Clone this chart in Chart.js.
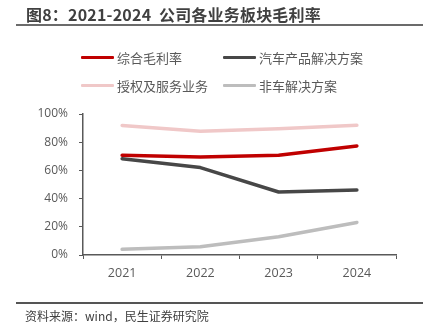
<!DOCTYPE html>
<html><head><meta charset="utf-8">
<script src="https://cdn.jsdelivr.net/npm/chart.js@4"></script>
<style>
html,body{margin:0;padding:0;background:#fff;}
#wrap{position:relative;width:428px;height:333px;overflow:hidden;font-family:"Noto Sans CJK SC","Noto Sans",sans-serif;}
#title{position:absolute;left:26px;top:2px;font-size:16px;font-weight:bold;color:#404040;white-space:nowrap;letter-spacing:0.2px;}
#tline{position:absolute;left:16px;width:407px;top:24px;height:2px;background:#6b6b6b;}
#bline{position:absolute;left:16px;width:407px;top:302px;height:1.5px;background:#555;}
#src{position:absolute;left:25px;top:307px;font-size:12px;color:#404040;white-space:nowrap;}
#c{position:absolute;left:0;top:0;}
.lg{position:absolute;font-size:13px;color:#595959;white-space:nowrap;display:flex;align-items:center;}
.lg span.s{display:inline-block;width:33px;height:3px;margin-right:3px;border-radius:1px;}
</style></head><body>
<div id="wrap">
<canvas id="c" width="428" height="333"></canvas>
<div id="title">图8：2021-2024&nbsp; 公司各业务板块毛利率</div>
<div id="tline"></div>
<div id="legend"></div>
<div id="bline"></div>
<div id="src">资料来源：wind，民生证券研究院</div>
</div>
<script>
const years = ["2021","2022","2023","2024"];
const seriesNames = ["综合毛利率","汽车产品解决方案","授权及服务业务","非车解决方案"];
const grossMargin = [70.7, 69.5, 70.7, 77.3];
const autoSolutions = [68.3, 62.0, 44.7, 46.1];
const licensingServices = [91.9, 87.8, 89.5, 92.0];
const nonAutoSolutions = [4.0, 5.9, 13.0, 23.1];
const yTicks = [0, 20, 40, 60, 80, 100];
const colors = ["#C00000", "#474747", "#F0C8C8", "#BDBDBD"];
const values = [grossMargin, autoSolutions, licensingServices, nonAutoSolutions];

// legend
const legendPos = [[81,48],[223,48],[81,76],[223,76]];
const lg = document.getElementById('legend');
seriesNames.forEach((n,i)=>{
  const d=document.createElement('div');d.className='lg';
  d.style.left=legendPos[i][0]+'px';d.style.top=legendPos[i][1]+'px';
  d.innerHTML='<span class="s" style="background:'+colors[i]+'"></span>'+n;
  lg.appendChild(d);
});

const axisColor = '#595959';
const tickFont = {family:'"Open Sans","Noto Sans CJK SC",sans-serif', size:12};
const xTickFont = {family:'"Open Sans","Noto Sans CJK SC",sans-serif', size:12.5};
new Chart(document.getElementById('c'), {
  type:'line',
  data:{labels:years, datasets: seriesNames.map((n,i)=>({
    label:n, data:values[i], borderColor:colors[i], backgroundColor:colors[i],
    borderWidth:3.5, pointRadius:0, tension:0, borderCapStyle:'round', borderJoinStyle:'round'
  }))},
  options:{
    responsive:false, animation:false,
    layout:{padding:{top:114,right:32,left:0,bottom:0}},
    plugins:{legend:{display:false}, tooltip:{enabled:false}},
    scales:{
      x:{offset:true,
        grid:{offset:true,drawOnChartArea:false,drawTicks:true,tickLength:4,color:axisColor,lineWidth:1},
        border:{color:axisColor,width:1.5},
        ticks:{color:'#595959',font:xTickFont,padding:7},
        afterFit:(s)=>{s.height=78;}
      },
      y:{min:0,max:100,
        afterBuildTicks:(s)=>{s.ticks=yTicks.map(v=>({value:v}));},
        grid:{drawOnChartArea:false,drawTicks:true,tickLength:4,color:axisColor,lineWidth:1},
        border:{color:axisColor,width:1.5},
        ticks:{color:'#595959',font:tickFont,padding:11,callback:(v)=>v+'%'},
        afterFit:(s)=>{s.width=83;}
      }
    }
  }
});
</script>
</body></html>
